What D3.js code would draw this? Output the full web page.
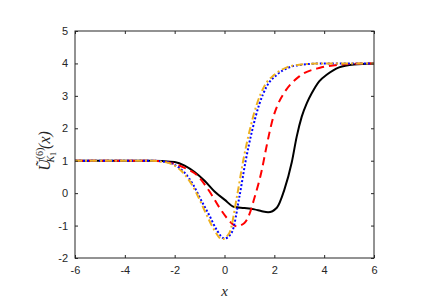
<!DOCTYPE html>
<html>
<head>
<meta charset="utf-8">
<script src="https://cdn.jsdelivr.net/npm/d3@7"></script>
<style>
  body { margin: 0; background: #fff; }
  .tick text { font-family: "Liberation Sans", Arial, sans-serif; font-size: 11px; fill: #262626; }
  .math { font-family: "Liberation Serif", "DejaVu Serif", serif; font-style: italic; fill: #262626; }
</style>
</head>
<body>
<div id="wrapper"></div>
<script>
// data
const blackX = [-6, -3, -2.5, -2, -1.6, -1.2, -0.8, -0.4, 0, 0.4, 0.8, 1.2, 1.5, 1.75, 2.1, 2.4, 2.7, 2.9, 3.1, 3.3, 3.5, 3.8, 4.1, 4.6, 5.2, 6]
const blackY = [1, 1, 0.99, 0.96, 0.85, 0.65, 0.38, 0.05, -0.2, -0.43, -0.46, -0.5, -0.56, -0.59, -0.45, 0.1, 0.95, 1.75, 2.36, 2.77, 3.08, 3.45, 3.65, 3.88, 3.97, 4.0]

const redX = [-6, -3, -2.5, -2, -1.6, -1.1, -0.6, -0.2, 0.1, 0.5, 0.8, 1.0, 1.2, 1.5, 1.65, 1.8, 1.96, 2.15, 2.4, 3.0, 3.8, 5, 6]
const redY = [1, 1, 0.98, 0.9, 0.78, 0.55, 0.05, -0.45, -0.77, -1.02, -0.92, -0.65, -0.15, 0.72, 1.3, 1.85, 2.35, 2.75, 3.1, 3.6, 3.86, 3.98, 4]

const blueX = [-6, -3, -2.5, -2, -1.6, -1.25, -0.95, -0.6, -0.3, 0.0, 0.3, 0.6, 0.85, 1.1, 1.4, 1.7, 2.1, 2.6, 3.1, 4, 6]
const blueY = [1, 1, 0.98, 0.87, 0.63, 0.25, -0.2, -0.7, -1.15, -1.4, -1.2, -0.1, 1.0, 1.9, 2.75, 3.3, 3.65, 3.88, 3.96, 4, 4]

const orangeX = [-6, -3, -2.5, -2, -1.65, -1.3, -1.0, -0.7, -0.4, -0.1, 0.2, 0.5, 0.75, 1.0, 1.3, 1.6, 2.0, 2.5, 3, 4, 6]
const orangeY = [1, 1, 0.97, 0.85, 0.62, 0.25, -0.2, -0.7, -1.15, -1.42, -1.22, -0.1, 1.0, 1.9, 2.75, 3.3, 3.65, 3.88, 3.96, 4, 4]

const xTicks = [-6, -4, -2, 0, 2, 4, 6]
const yTicks = [-2, -1, 0, 1, 2, 3, 4, 5]

const series = [
  { xs: blackX, ys: blackY, color: "#000000", dash: null },
  { xs: redX, ys: redY, color: "#ff0000", dash: "8,5" },
  { xs: blueX, ys: blueY, color: "#0000ff", dash: "2,2" },
  { xs: orangeX, ys: orangeY, color: "#edb120", dash: "7,3,2,3" },
]

const dimensions = {
  width: 436,
  height: 308,
  margin: { top: 31, right: 62, bottom: 50, left: 75 },
}
dimensions.boundedWidth = dimensions.width - dimensions.margin.left - dimensions.margin.right
dimensions.boundedHeight = dimensions.height - dimensions.margin.top - dimensions.margin.bottom

const svg = d3.select("#wrapper").append("svg")
    .attr("width", dimensions.width)
    .attr("height", dimensions.height)

const bounds = svg.append("g")
    .attr("transform", `translate(${dimensions.margin.left},${dimensions.margin.top})`)

const xScale = d3.scaleLinear().domain([-6, 6]).range([0, dimensions.boundedWidth])
const yScale = d3.scaleLinear().domain([-2, 5]).range([dimensions.boundedHeight, 0])

bounds.append("clipPath").attr("id", "clip")
  .append("rect").attr("width", dimensions.boundedWidth).attr("height", dimensions.boundedHeight)

const lineGen = d3.line()
    .x(d => xScale(d[0]))
    .y(d => yScale(d[1]))
    .curve(d3.curveMonotoneX)

const lines = bounds.append("g").attr("clip-path", "url(#clip)")
series.forEach(s => {
  lines.append("path")
      .datum(d3.zip(s.xs, s.ys))
      .attr("d", lineGen)
      .attr("fill", "none")
      .attr("stroke", s.color)
      .attr("stroke-width", 2)
      .attr("stroke-dasharray", s.dash)
})

// axes, ticks inward on all four sides
const axisColor = "#262626"
const plainFormat = d => String(d)   // hyphen minus like the original
const styleAxis = g => {
  g.select(".domain").remove()
  g.selectAll(".tick line").attr("stroke", axisColor)
}

bounds.append("g")
    .attr("transform", `translate(0,${dimensions.boundedHeight})`)
    .call(d3.axisBottom(xScale).tickValues(xTicks).tickSize(-3).tickPadding(8).tickFormat(plainFormat))
    .call(styleAxis)

bounds.append("g")
    .call(d3.axisTop(xScale).tickValues(xTicks).tickSize(-3).tickFormat(""))
    .call(styleAxis)

bounds.append("g")
    .call(d3.axisLeft(yScale).tickValues(yTicks).tickSize(-3).tickPadding(7).tickFormat(plainFormat))
    .call(styleAxis)

bounds.append("g")
    .attr("transform", `translate(${dimensions.boundedWidth},0)`)
    .call(d3.axisRight(yScale).tickValues(yTicks).tickSize(-3).tickFormat(""))
    .call(styleAxis)

bounds.selectAll(".tick text").attr("fill", axisColor)

bounds.append("rect")
    .attr("width", dimensions.boundedWidth)
    .attr("height", dimensions.boundedHeight)
    .attr("fill", "none")
    .attr("stroke", axisColor)
    .attr("stroke-width", 1)

// labels
bounds.append("text")
    .attr("class", "math")
    .attr("x", dimensions.boundedWidth / 2)
    .attr("y", dimensions.boundedHeight + 38)
    .attr("text-anchor", "middle")
    .style("font-size", "15px")
    .text("x")

const yLabel = svg.append("text")
    .attr("class", "math")
    .attr("transform", `translate(50,151) rotate(-90)`)
    .attr("text-anchor", "middle")
    .style("font-size", "16px")
yLabel.append("tspan").text("Ũ")
yLabel.append("tspan").attr("dy", -7).style("font-size", "10px").style("font-style", "normal").text("(6)")
yLabel.append("tspan").attr("dx", -15).attr("dy", 11).style("font-size", "10px").text("K")
yLabel.append("tspan").attr("dy", 2).style("font-size", "8px").style("font-style", "normal").text("1")
yLabel.append("tspan").attr("dx", 3).attr("dy", -6).text("(x)")
</script>
</body>
</html>
